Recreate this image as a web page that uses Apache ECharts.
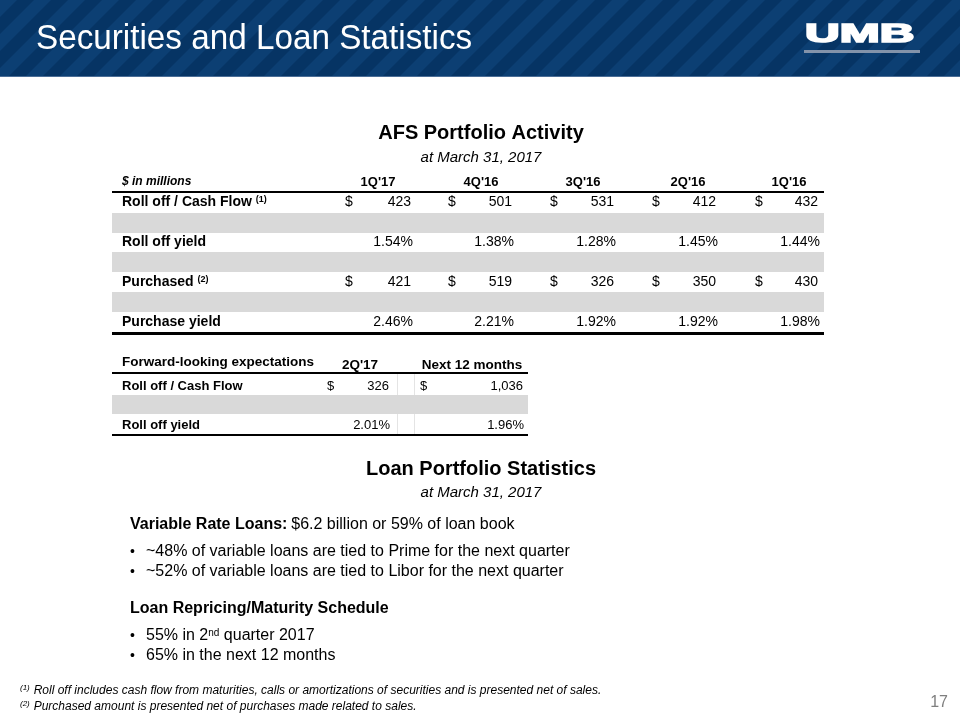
<!DOCTYPE html>
<html>
<head>
<meta charset="utf-8">
<script src="https://cdn.jsdelivr.net/npm/echarts@6/dist/echarts.min.js"></script>
<style>
  html, body { margin: 0; padding: 0; background: #fff; }
  #main { width: 960px; height: 720px; }
</style>
</head>
<body>
<div id="main"></div>
<script>
// ---- data ----
const afsColumns = ["1Q'17", "4Q'16", "3Q'16", "2Q'16", "1Q'16"];
const rollOffCashFlow = [423, 501, 531, 412, 432];
const rollOffYield = [1.54, 1.38, 1.28, 1.45, 1.44];
const purchased = [421, 519, 326, 350, 430];
const purchaseYield = [2.46, 2.21, 1.92, 1.92, 1.98];

const fwdColumns = ["2Q'17", "Next 12 months"];
const fwdRollOffCashFlow = [326, 1036];
const fwdRollOffYield = [2.01, 1.96];

const variableBullets = [
  '~48% of variable loans are tied to Prime for the next quarter',
  '~52% of variable loans are tied to Libor for the next quarter'
];
const footnotes = [
  'Roll off includes cash flow from maturities, calls or amortizations of securities and is presented net of sales.',
  'Purchased amount is presented net of purchases made related to sales.'
];

// ---- layout ----
const FONT = '"Liberation Sans", Arial, sans-serif';
const dollarX = [345, 448, 550, 652, 755];
const valueRight = [411, 512, 614, 716, 818];
const headCenter = [378, 481, 583, 688, 789];
const TS = 14; // table text size

const fmtNum = v => v.toLocaleString('en-US');
const fmtPct = v => v.toFixed(2) + '%';

function txt(x, y, text, o) {
  o = o || {};
  return {
    type: 'text', x: x, y: y, z: 10,
    scaleX: o.scaleX || 1,
    style: {
      text: text,
      fill: o.fill || '#000',
      fontFamily: o.family || FONT,
      fontSize: o.size || TS,
      fontWeight: o.weight || 'normal',
      fontStyle: o.style || 'normal',
      align: o.align || 'left',
      verticalAlign: 'middle',
      stroke: o.stroke,
      lineWidth: o.lineWidth || 0,
      rich: o.rich
    }
  };
}
function rect(x, y, w, h, fill) {
  return { type: 'rect', shape: { x: x, y: y, width: w, height: h }, style: { fill: fill } };
}

// striped header pattern (45 degree bands)
const P = 34;
const tile = document.createElement('canvas');
tile.width = P; tile.height = P;
(function () {
  const c = tile.getContext('2d');
  c.fillStyle = '#063464';
  c.fillRect(0, 0, P, P);
  c.fillStyle = '#0c3f73';
  [-P, 0, P].forEach(dx => {
    c.beginPath();
    c.moveTo(dx, P);
    c.lineTo(dx + P / 2, P);
    c.lineTo(dx + P * 1.5, 0);
    c.lineTo(dx + P, 0);
    c.closePath();
    c.fill();
  });
})();

const g = [];
// header band
g.push({ type: 'rect', shape: { x: 0, y: 0, width: 960, height: 76 }, style: { fill: { image: tile, repeat: 'repeat' } } });
g.push(rect(0, 76, 960, 1, '#4a6d96'));
g.push(txt(36, 39, 'Securities and Loan Statistics', { size: 35, fill: '#fff', scaleX: 0.95 }));
g.push(txt(805, 35, 'UMB', { size: 25, weight: 'bold', fill: '#fff', scaleX: 1.92, stroke: '#fff', lineWidth: 1.6 }));
g.push(rect(804, 50, 116, 3, '#8393aa'));

// AFS titles
g.push(txt(481, 133, 'AFS Portfolio Activity', { size: 20, weight: 'bold', align: 'center' }));
g.push(txt(481, 158, 'at March 31, 2017', { size: 15, style: 'italic', align: 'center' }));

// AFS table backgrounds
[213, 252, 292].forEach(y => g.push(rect(112, y, 712, 20, '#d9d9d9')));
g.push(rect(112, 191, 712, 2, '#000'));
g.push(rect(112, 332, 712, 3, '#000'));

g.push(txt(122, 182, '$ in millions', { size: 12, weight: 'bold', style: 'italic' }));
afsColumns.forEach((c, i) => g.push(txt(headCenter[i], 182, c, { size: 13, weight: 'bold', align: 'center' })));

const labelRich = {
  l: { fontSize: TS, fontWeight: 'bold', fontFamily: FONT, fill: '#000' },
  s: { fontSize: 9, fontWeight: 'bold', fontFamily: FONT, fill: '#000', verticalAlign: 'top' }
};
g.push(txt(122, 202, '{l|Roll off / Cash Flow} {s|(1)}', { rich: labelRich }));
g.push(txt(122, 242, 'Roll off yield', { weight: 'bold' }));
g.push(txt(122, 282, '{l|Purchased} {s|(2)}', { rich: labelRich }));
g.push(txt(122, 322, 'Purchase yield', { weight: 'bold' }));

function dollarRow(vals, y) {
  vals.forEach((v, i) => {
    g.push(txt(dollarX[i], y, '$'));
    g.push(txt(valueRight[i], y, fmtNum(v), { align: 'right' }));
  });
}
function pctRow(vals, y) {
  vals.forEach((v, i) => g.push(txt(valueRight[i] + 2, y, fmtPct(v), { align: 'right' })));
}
dollarRow(rollOffCashFlow, 202);
pctRow(rollOffYield, 242);
dollarRow(purchased, 282);
pctRow(purchaseYield, 322);

// forward-looking table
g.push(rect(112, 395, 416, 19, '#d9d9d9'));
[397, 414].forEach(x => {
  g.push(rect(x, 374, 1, 21, '#e4e4e4'));
  g.push(rect(x, 414, 1, 20, '#e4e4e4'));
});
g.push(rect(112, 372, 416, 2, '#000'));
g.push(rect(112, 434, 416, 2, '#000'));
g.push(txt(122, 362, 'Forward-looking expectations', { size: 13.5, weight: 'bold' }));
g.push(txt(360, 365, fwdColumns[0], { size: 13.5, weight: 'bold', align: 'center' }));
g.push(txt(472, 365, fwdColumns[1], { size: 13.5, weight: 'bold', align: 'center' }));
g.push(txt(122, 386, 'Roll off / Cash Flow', { size: 13, weight: 'bold' }));
g.push(txt(122, 425, 'Roll off yield', { size: 13, weight: 'bold' }));
const fwdDollarX = [327, 420];
const fwdRight = [389, 523];
fwdRollOffCashFlow.forEach((v, i) => {
  g.push(txt(fwdDollarX[i], 386, '$', { size: 13 }));
  g.push(txt(fwdRight[i], 386, fmtNum(v), { size: 13, align: 'right' }));
});
fwdRollOffYield.forEach((v, i) => g.push(txt(fwdRight[i] + 1, 425, fmtPct(v), { size: 13, align: 'right' })));

// loan portfolio
g.push(txt(481, 469, 'Loan Portfolio Statistics', { size: 20, weight: 'bold', align: 'center' }));
g.push(txt(481, 493, 'at March 31, 2017', { size: 15, style: 'italic', align: 'center' }));
g.push(txt(130, 525, '{b|Variable Rate Loans:} {r|$6.2 billion or 59% of loan book}', {
  rich: {
    b: { fontSize: 16, fontWeight: 'bold', fontFamily: FONT, fill: '#000' },
    r: { fontSize: 16, fontFamily: FONT, fill: '#000' }
  }
}));
variableBullets.forEach((t, i) => {
  g.push(txt(130, 552 + i * 20, '•', { size: 14 }));
  g.push(txt(146, 552 + i * 20, t, { size: 16 }));
});
g.push(txt(130, 609, 'Loan Repricing/Maturity Schedule', { size: 16, weight: 'bold' }));
const bodyRich = {
  r: { fontSize: 16, fontFamily: FONT, fill: '#000' },
  s: { fontSize: 10, fontFamily: FONT, fill: '#000', verticalAlign: 'top' }
};
g.push(txt(130, 636, '•', { size: 14 }));
g.push(txt(146, 636, '{r|55% in 2}{s|nd}{r| quarter 2017}', { rich: bodyRich }));
g.push(txt(130, 656, '•', { size: 14 }));
g.push(txt(146, 656, '65% in the next 12 months', { size: 16 }));

// footnotes
const fnRich = {
  s: { fontSize: 8, fontStyle: 'italic', fontFamily: FONT, fill: '#000', verticalAlign: 'top' },
  r: { fontSize: 12, fontStyle: 'italic', fontFamily: FONT, fill: '#000' }
};
footnotes.forEach((t, i) => {
  g.push(txt(20, 691 + i * 16, '{s|(' + (i + 1) + ')} {r|' + t + '}', { rich: fnRich }));
});
g.push(txt(948, 703, '17', { size: 16, fill: '#7f7f7f', align: 'right' }));

const chart = echarts.init(document.getElementById('main'), null, { renderer: 'canvas' });
chart.setOption({
  backgroundColor: '#fff',
  animation: false,
  graphic: { elements: g }
});
</script>
</body>
</html>
